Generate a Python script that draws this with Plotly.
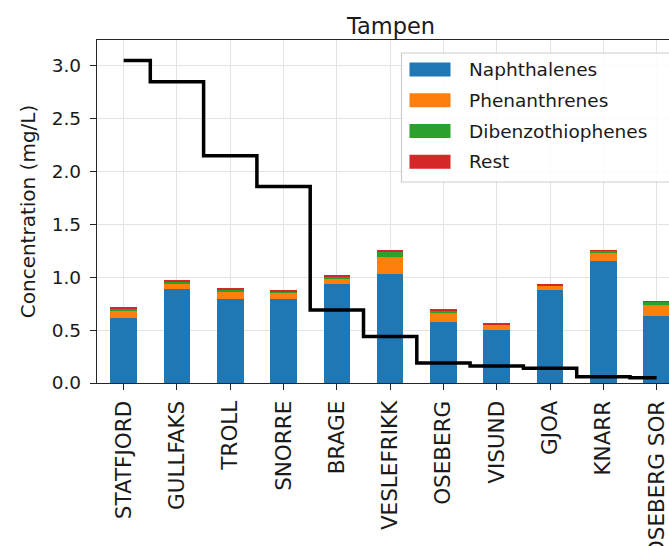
import plotly.graph_objects as go

# Oil fields in the Tampen area
fields = ["STATFJORD", "GULLFAKS", "TROLL", "SNORRE", "BRAGE", "VESLEFRIKK",
          "OSEBERG", "VISUND", "GJOA", "KNARR", "OSEBERG SOR"]

# Stacked concentration components (mg/L)
naphthalenes = [0.615, 0.890, 0.795, 0.795, 0.940, 1.030, 0.575, 0.500, 0.878, 1.155, 0.637]
phenanthrenes = [0.065, 0.050, 0.070, 0.054, 0.045, 0.160, 0.088, 0.049, 0.041, 0.079, 0.102]
dibenzothiophenes = [0.028, 0.019, 0.019, 0.019, 0.025, 0.050, 0.027, 0.007, 0.005, 0.019, 0.028]
rest = [0.004, 0.010, 0.006, 0.010, 0.003, 0.017, 0.014, 0.004, 0.009, 0.003, 0.003]

# Step line values per field
step_values = [3.05, 2.85, 2.15, 1.86, 0.69, 0.44, 0.19, 0.16, 0.14, 0.06, 0.05]

series = [
    ("Naphthalenes", naphthalenes, "#1f77b4"),
    ("Phenanthrenes", phenanthrenes, "#ff7f0e"),
    ("Dibenzothiophenes", dibenzothiophenes, "#2ca02c"),
    ("Rest", rest, "#d62728"),
]

W, H = 669, 546
L, R, T, B = 97, 669, 40, 383  # plot area in pixels
FONT = "DejaVu Sans"
FS = 18.5
idx = list(range(len(fields)))


def px_x(p):
    return (p - L) / (R - L)


def px_y(p):
    return (B - p) / (B - T)


fig = go.Figure()
for name, vals, color in series:
    fig.add_trace(go.Bar(
        x=idx, y=vals, name=name, width=0.5,
        marker=dict(color=color, line=dict(width=0)),
        showlegend=False,
    ))

fig.add_trace(go.Scatter(
    x=idx, y=step_values, mode="lines", line_shape="hvh",
    line=dict(color="black", width=3.5), showlegend=False,
))

# Legend box drawn with shapes and text
shapes = [dict(
    type="rect", xref="paper", yref="paper",
    x0=px_x(401.5), x1=px_x(700), y0=px_y(182), y1=px_y(53),
    line=dict(color="#cccccc", width=1.2), fillcolor="rgba(255,255,255,0.85)",
    layer="above",
)]
annotations = []
rows_y = [69.5, 100.3, 131, 161.7]
for (name, _, color), yc in zip(series, rows_y):
    shapes.append(dict(
        type="rect", xref="paper", yref="paper",
        x0=px_x(409.5), x1=px_x(450.5), y0=px_y(yc + 7), y1=px_y(yc - 7),
        line=dict(width=0), fillcolor=color, layer="above",
    ))
    annotations.append(dict(
        xref="paper", yref="paper", x=px_x(467), y=px_y(yc),
        xanchor="left", yanchor="middle", text=name, showarrow=False,
        font=dict(family=FONT, size=FS, color="#1a1a1a"),
    ))

fig.update_layout(
    width=W, height=H,
    margin=dict(l=L, r=W - R, t=T, b=H - B, pad=0, autoexpand=False),
    paper_bgcolor="white", plot_bgcolor="white",
    barmode="stack", bargap=0.5,
    font=dict(family=FONT, size=FS, color="#1a1a1a"),
    title=dict(text="Tampen", x=px_x(391), xref="paper", xanchor="center",
               y=1 - 26 / H, yref="container", yanchor="middle",
               font=dict(family=FONT, size=22.5, color="#1a1a1a")),
    shapes=shapes, annotations=annotations,
    xaxis=dict(
        range=[-0.5, -0.5 + (R - L) / 53.3],
        tickmode="array", tickvals=idx, ticktext=fields, tickangle=-90,
        showgrid=True, gridcolor="#e3e3e3", gridwidth=1.2,
        showline=True, linecolor="#262626", linewidth=1.3, mirror=True,
        ticks="outside", ticklen=6, tickwidth=1.3, tickcolor="#262626",
        ticklabelstandoff=2, zeroline=False, automargin=False,
        tickfont=dict(family=FONT, size=21.5, color="#1a1a1a"),
    ),
    yaxis=dict(
        range=[0, 3.245],
        tickvals=[0, 0.5, 1, 1.5, 2, 2.5, 3],
        ticktext=["0.0", "0.5", "1.0", "1.5", "2.0", "2.5", "3.0"],
        showgrid=True, gridcolor="#e3e3e3", gridwidth=1.2,
        showline=True, linecolor="#262626", linewidth=1.3, mirror=False,
        ticks="outside", ticklen=6, tickwidth=1.3, tickcolor="#262626",
        ticklabelstandoff=5, zeroline=False, automargin=False,
        tickfont=dict(family=FONT, size=FS, color="#1a1a1a"),
        title=dict(text="Concentration (mg/L)",
                   font=dict(family=FONT, size=20, color="#1a1a1a"),
                   standoff=10),
    ),
)

fig.write_html("out.html")
